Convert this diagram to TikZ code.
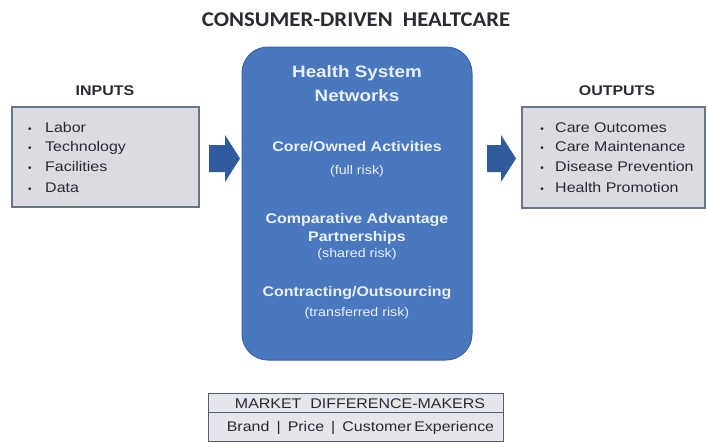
\documentclass[tikz,border=0pt]{standalone}
\usepackage{fontspec}
\setmainfont{Liberation Sans}
\newfontfamily\titlefont{Carlito}
\definecolor{netblue}{HTML}{4A78BE}
\definecolor{netedge}{HTML}{3A64A8}
\definecolor{arrowblue}{HTML}{2F5A9C}
\definecolor{panelfill}{HTML}{DADCE2}
\definecolor{paneledge}{HTML}{6A7688}
\definecolor{inktext}{HTML}{2A2A33}
\definecolor{softwhite}{HTML}{EAF0F8}
\tikzset{
  wide/.style={xscale=1.14},
  panel/.style={draw=paneledge, line width=1.2pt, fill=panelfill},
  heading/.style={wide, font=\bfseries\fontsize{14}{16}\selectfont, text=inktext},
  item/.style={wide, anchor=base west, font=\fontsize{14}{16}\selectfont, text=inktext, inner sep=0pt},
  dot/.style={anchor=base, font=\fontsize{10}{12}\selectfont, text=inktext, inner sep=0pt},
  flow/.style={fill=arrowblue},
  netline/.style={wide, anchor=base, text=softwhite, inner sep=0pt},
  netbold/.style={netline, font=\bfseries\fontsize{14}{16}\selectfont},
  netsmall/.style={netline, font=\fontsize{12.5}{14}\selectfont},
  cell/.style={wide, font=\fontsize{14}{16}\selectfont, text=inktext, inner sep=0pt, anchor=base}
}
\begin{document}
\begin{tikzpicture}[x=1pt,y=-1pt]
\useasboundingbox (0,0) rectangle (708,442);
\fill[white] (0,0) rectangle (708,442);

% title
\node[xscale=1.08, font=\titlefont\bfseries\fontsize{21}{24}\selectfont, text=inktext, anchor=base]
  (title) at (356,26) {CONSUMER-DRIVEN\ \ HEALTCARE};

% inputs panel
\node[heading, anchor=base] (inlabel) at (105,95) {INPUTS};
\draw[panel] (12,107) rectangle (199,207);
\foreach \t/\y [count=\i] in {Labor/132, Technology/151, Facilities/171, Data/192}{
  \node[dot] (indot\i) at (30,\y) {\textbullet};
  \node[item] (initem\i) at (45,\y) {\t};
}

% outputs panel
\node[heading, anchor=base] (outlabel) at (617,95) {OUTPUTS};
\draw[panel] (522,107) rectangle (705,208);
\foreach \t/\y [count=\i] in {Care Outcomes/132, Care Maintenance/151, Disease Prevention/171, Health Promotion/192}{
  \node[dot] (outdot\i) at (542,\y) {\textbullet};
  \node[item] (outitem\i) at (555,\y) {\t};
}

% central network block
\draw[fill=netblue, draw=netedge, line width=1pt, rounded corners=26pt]
  (242,47) rectangle (472,360);
\node[netbold, font=\bfseries\fontsize{16.5}{18}\selectfont] (h1) at (357,77) {Health System};
\node[netbold, font=\bfseries\fontsize{16.5}{18}\selectfont] (h2) at (357,101) {Networks};
\node[netbold] (c1) at (357,151) {Core/Owned Activities};
\node[netsmall] (c2) at (357,174) {(full risk)};
\node[netbold] (p1) at (357,223) {Comparative Advantage};
\node[netbold] (p2) at (357,241) {Partnerships};
\node[netsmall] (p3) at (357,257) {(shared risk)};
\node[netbold] (o1) at (357,296) {Contracting/Outsourcing};
\node[netsmall] (o2) at (357,316) {(transferred risk)};

% block arrows between the panels
\fill[flow] (209,145) -- (225,145) -- (225,135) -- (240,158.5) -- (225,182)
  -- (225,172) -- (209,172) -- cycle;
\fill[flow] (487,145) -- (501,145) -- (501,135) -- (516,158.5) -- (501,182)
  -- (501,172) -- (487,172) -- cycle;

% market difference-makers table
\draw[draw=paneledge!80!black, line width=1pt, fill=panelfill!70!white]
  (208,393) rectangle (503,441);
\draw[draw=paneledge!80!black, line width=1pt] (208,412) -- (503,412);
\node[cell] (mk1) at (360,408) {MARKET\ \ DIFFERENCE-MAKERS};
\node[cell] (mk2) at (360.5,431) {Brand \,|\, Price \,|\, Customer\,Experience};
\end{tikzpicture}
\end{document}
